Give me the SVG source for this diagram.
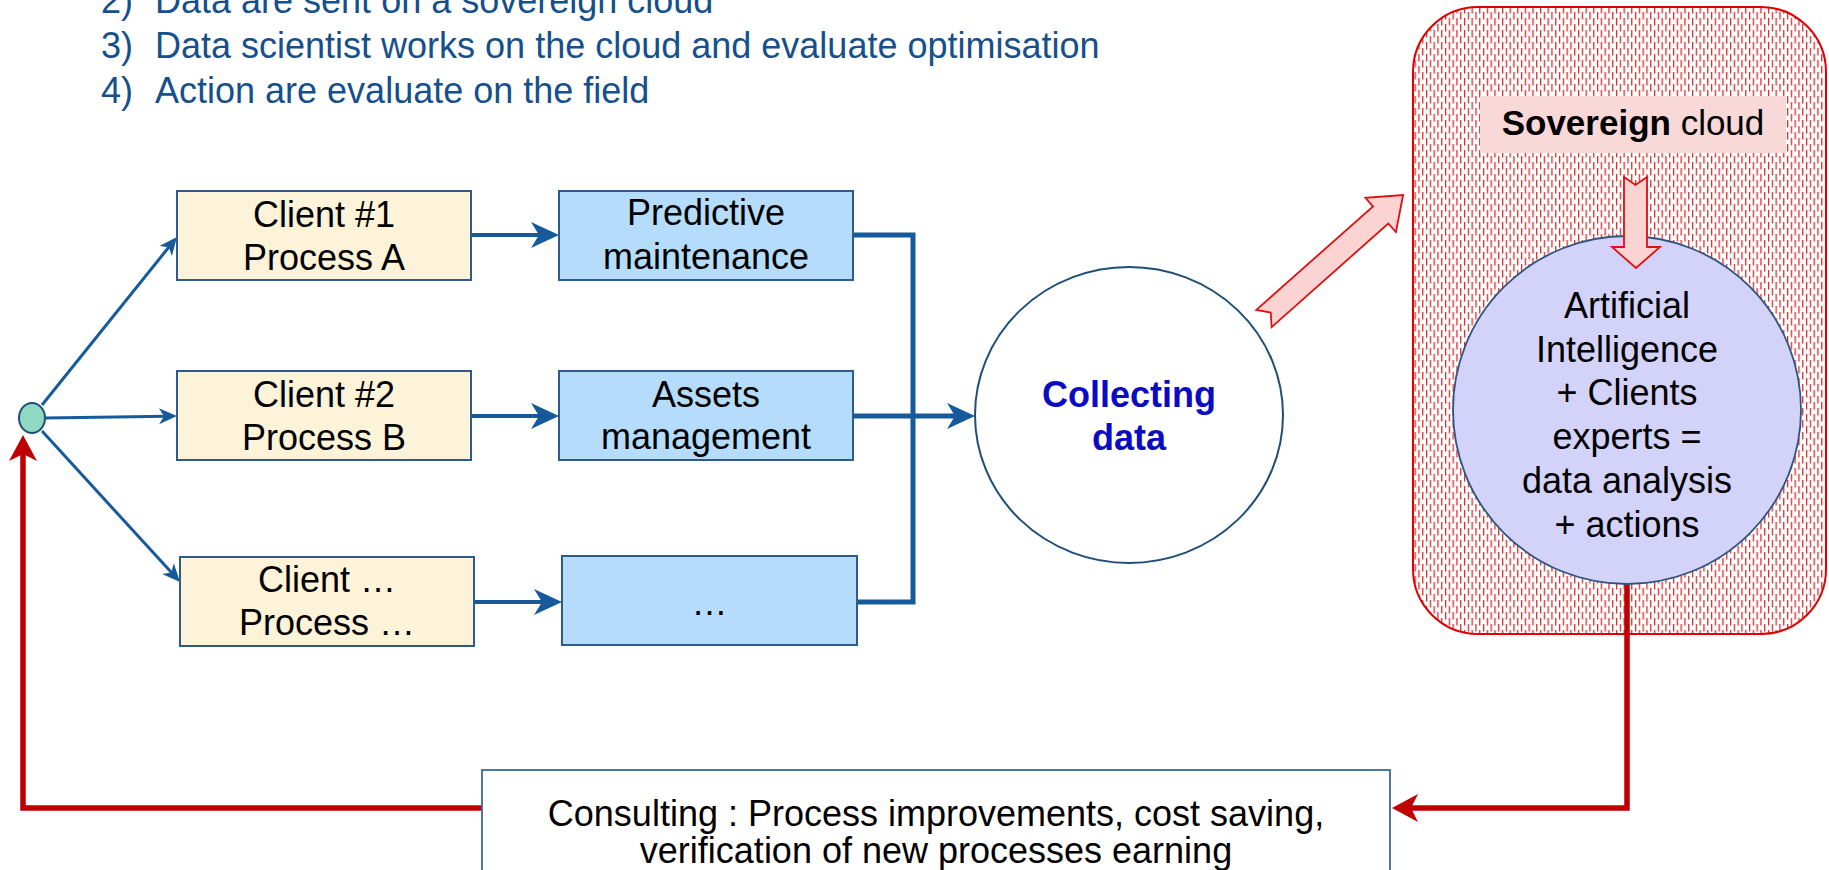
<svg xmlns="http://www.w3.org/2000/svg" width="1829" height="870" viewBox="0 0 1829 870">
<style>
text{font-family:"Liberation Sans",Arial,sans-serif;fill:#000}
.hdr{font-size:36px;fill:#154f8c}
.t36{font-size:36px;text-anchor:middle}
.client{fill:#fdf3d8;stroke:#2f5b8c;stroke-width:2}
.blue{fill:#b5dcfa;stroke:#2f5b8c;stroke-width:2}
.bl{fill:none;stroke:#165a9c;stroke-linecap:butt}
.red{fill:none;stroke:#c00000;stroke-width:5.5}
.pink{fill:#fbd3d3;stroke:#dd1111;stroke-width:1.8}
</style>
<defs>
<pattern id="hatch" width="7.6" height="12" patternUnits="userSpaceOnUse">
<rect width="7.6" height="12" fill="#fff"/>
<rect x="1" y="0" width="1.2" height="7.5" fill="#d41c1c"/>
<rect x="4.8" y="6" width="1.2" height="6" fill="#d41c1c"/>
<rect x="4.8" y="0" width="1.2" height="1.5" fill="#d41c1c"/>
</pattern>
<marker id="aS" markerUnits="userSpaceOnUse" orient="auto" refX="-10" refY="0" overflow="visible">
<path d="M0,0 L-18,-8 L-13,0 L-18,8 Z" fill="#165a9c"/>
</marker>
<marker id="aL" markerUnits="userSpaceOnUse" orient="auto" refX="-15" refY="0" overflow="visible">
<path d="M0,0 L-28,-13 L-20,0 L-28,13 Z" fill="#165a9c"/>
</marker>
<marker id="aR" markerUnits="userSpaceOnUse" orient="auto" refX="-12" refY="0" overflow="visible">
<path d="M0,0 L-26,-14 L-19,0 L-26,14 Z" fill="#c00000"/>
</marker>
</defs>
<rect width="1829" height="870" fill="#fff"/>

<g id="header">
<text class="hdr" x="101" y="13">2)</text><text class="hdr" x="155" y="13">Data are sent on a sovereign cloud</text>
<text class="hdr" x="101" y="58">3)</text><text class="hdr" x="155" y="58">Data scientist works on the cloud and evaluate optimisation</text>
<text class="hdr" x="101" y="103">4)</text><text class="hdr" x="155" y="103">Action are evaluate on the field</text>
</g>

<g id="sovereign-cloud">
<rect x="1413" y="7" width="413" height="627" rx="65" fill="url(#hatch)" stroke="#e00000" stroke-width="2"/>
<rect x="1480" y="96" width="306" height="57" fill="#f9d8d8"/>
<text x="1633" y="135" font-size="35" text-anchor="middle"><tspan font-weight="bold">Sovereign</tspan> cloud</text>
</g>

<g id="connectors">
<path class="bl" stroke-width="3" d="M42,405 L170.7,244.8" marker-end="url(#aS)"/>
<path class="bl" stroke-width="3" d="M45,418 L167,416.2" marker-end="url(#aS)"/>
<path class="bl" stroke-width="3" d="M42,431 L173.3,574.6" marker-end="url(#aS)"/>
<path class="bl" stroke-width="4" d="M471,235 H544" marker-end="url(#aL)"/>
<path class="bl" stroke-width="4" d="M471,416 H544" marker-end="url(#aL)"/>
<path class="bl" stroke-width="4" d="M474,602 H547" marker-end="url(#aL)"/>
<path class="bl" stroke-width="5" d="M853,235 H913 V602 H857"/>
<path class="bl" stroke-width="5" d="M853,416 H960" marker-end="url(#aL)"/>
<path class="red" d="M1627,584 V808 H1404" marker-end="url(#aR)"/>
<path class="red" d="M482,808 H23 V447" marker-end="url(#aR)"/>
<path class="pink" transform="translate(1264,318.5) rotate(-41.6)" d="M0,-11.5 H156 V-23 L186,0 L156,23 V11.5 H0 L9,0 Z"/>
</g>

<g id="start-dot">
<ellipse cx="32" cy="418" rx="13" ry="15" fill="#8fd9c2" stroke="#1f4e79" stroke-width="2"/>
</g>

<g id="client1">
<rect class="client" x="177" y="191" width="294" height="89"/>
<text class="t36" x="324" y="227">Client #1</text>
<text class="t36" x="324" y="270">Process A</text>
</g>
<g id="client2">
<rect class="client" x="177" y="371" width="294" height="89"/>
<text class="t36" x="324" y="407">Client #2</text>
<text class="t36" x="324" y="450">Process B</text>
</g>
<g id="client3">
<rect class="client" x="180" y="557" width="294" height="89"/>
<text class="t36" x="327" y="592">Client …</text>
<text class="t36" x="327" y="635">Process …</text>
</g>

<g id="predictive">
<rect class="blue" x="559" y="191" width="294" height="89"/>
<text class="t36" x="706" y="225">Predictive</text>
<text class="t36" x="706" y="269">maintenance</text>
</g>
<g id="assets">
<rect class="blue" x="559" y="371" width="294" height="89"/>
<text class="t36" x="706" y="407">Assets</text>
<text class="t36" x="706" y="449">management</text>
</g>
<g id="other">
<rect class="blue" x="562" y="556" width="295" height="89"/>
<text class="t36" x="709.5" y="615">…</text>
</g>

<g id="collecting">
<ellipse cx="1129" cy="415" rx="154" ry="148" fill="#fff" stroke="#1f4e79" stroke-width="2"/>
<text x="1129" y="407" font-size="36" font-weight="bold" text-anchor="middle" style="fill:#0b0bc4">Collecting</text>
<text x="1129" y="450" font-size="36" font-weight="bold" text-anchor="middle" style="fill:#0b0bc4">data</text>
</g>

<g id="ai">
<circle cx="1627" cy="410" r="174" fill="#d3d3fa" stroke="#2f5480" stroke-width="1.8"/>
<path class="pink" d="M1624,177 L1635.5,185 L1647,177 V247 H1660 L1636,268 L1612,247 H1624 Z"/>
<text class="t36" x="1627" y="318">Artificial</text>
<text class="t36" x="1627" y="362">Intelligence</text>
<text class="t36" x="1627" y="405">+ Clients</text>
<text class="t36" x="1627" y="449">experts =</text>
<text class="t36" x="1627" y="493">data analysis</text>
<text class="t36" x="1627" y="537">+ actions</text>
</g>

<g id="consulting">
<rect x="482" y="770" width="908" height="120" fill="#fff" stroke="#3a6a9a" stroke-width="1.8"/>
<text class="t36" x="936" y="826">Consulting : Process improvements, cost saving,</text>
<text class="t36" x="936" y="863">verification of new processes earning</text>
</g>
</svg>
